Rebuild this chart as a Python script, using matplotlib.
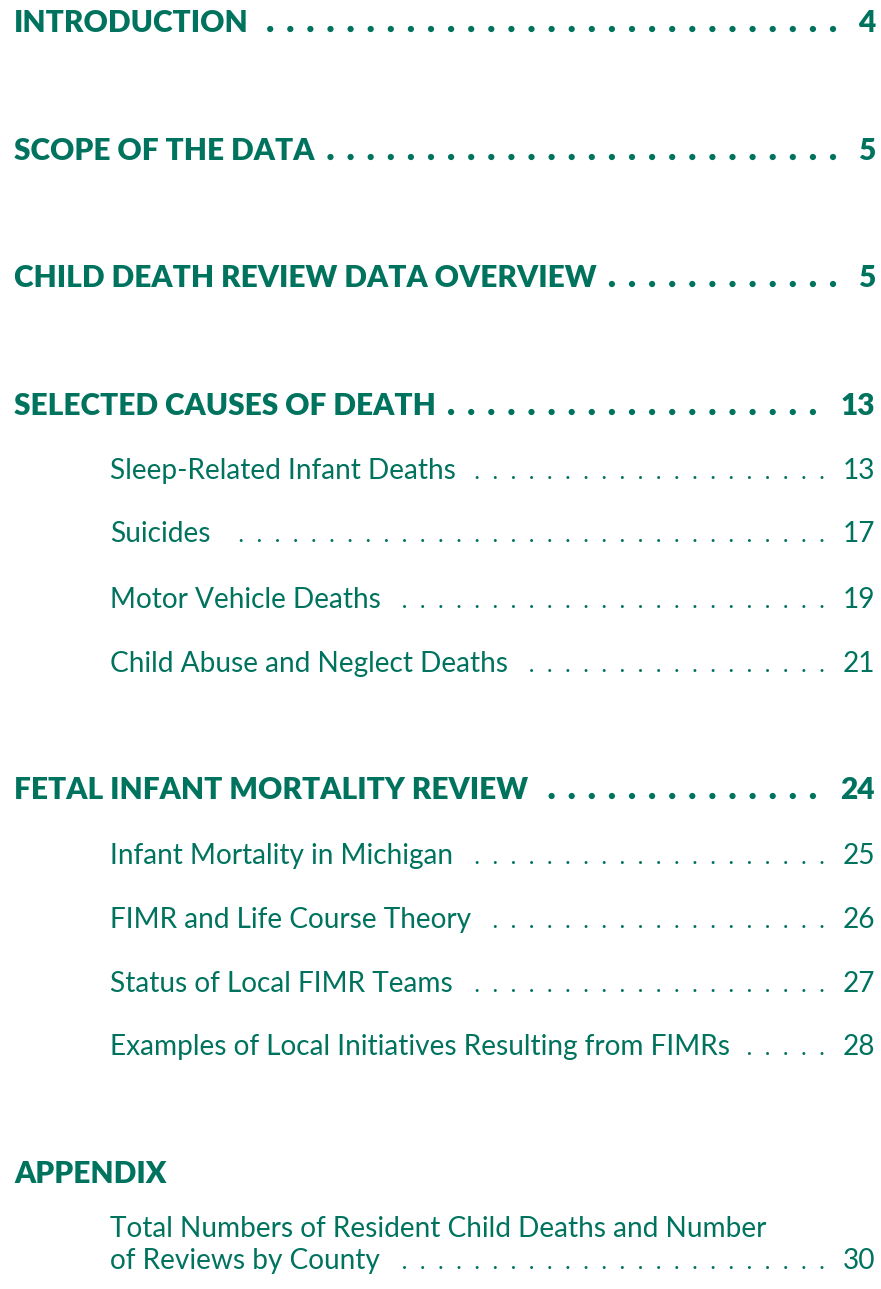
import matplotlib
matplotlib.use("Agg")
import matplotlib.pyplot as plt
import numpy as np

# ---------------- data ----------------
titles = [
    "INTRODUCTION",
    "SCOPE OF THE DATA",
    "CHILD DEATH REVIEW DATA OVERVIEW",
    "SELECTED CAUSES OF DEATH",
    "Sleep-Related Infant Deaths",
    "Suicides",
    "Motor Vehicle Deaths",
    "Child Abuse and Neglect Deaths",
    "FETAL INFANT MORTALITY REVIEW",
    "Infant Mortality in Michigan",
    "FIMR and Life Course Theory",
    "Status of Local FIMR Teams",
    "Examples of Local Initiatives Resulting from FIMRs",
    "APPENDIX",
    "Total Numbers of Resident Child Deaths and Number\nof Reviews by County",
]
pages = ["4", "5", "5", "13", "13", "17", "19", "21", "24", "25", "26", "27", "28", "", "30"]
levels = [0, 0, 0, 0, 1, 1, 1, 1, 0, 1, 1, 1, 1, 0, 1]

# ---------------- layout ----------------
W, H = 881, 1289
COLOR = "#00735f"
baselines = [32, 160, 287, 415, 479, 542, 608, 672, 799, 864, 928, 992, 1055, 1183, 1237]
LINE_H = 32
X_HEAD, X_SUB, X_RIGHT = 14, 110, 875

style = {
    0: dict(fontsize=21.5, weight="heavy", dot_last=833, dot_step=20.1, dot_s=20, dot_dy=-3, gap=14),
    1: dict(fontsize=20.2, weight="normal", dot_last=822, dot_step=18.15, dot_s=4.5, dot_dy=-1.5, gap=14),
}
FAMILY = ["Lato", "DejaVu Sans"]

fig = plt.figure(figsize=(W / 100, H / 100), dpi=100)
ax = fig.add_axes([0, 0, 1, 1])
ax.set_xlim(0, W)
ax.set_ylim(H, 0)
ax.axis("off")

items = []
for t, p, lv, yb in zip(titles, pages, levels, baselines):
    st = style[lv]
    x0 = X_HEAD if lv == 0 else X_SUB
    lines = t.split("\n")
    objs = []
    for i, ln in enumerate(lines):
        o = ax.text(x0, yb + i * LINE_H, ln, fontsize=st["fontsize"], fontweight=st["weight"],
                    family=FAMILY, color=COLOR, ha="left", va="baseline")
        objs.append(o)
    ylast = yb + (len(lines) - 1) * LINE_H
    po = None
    if p:
        po = ax.text(X_RIGHT, ylast, p, fontsize=st["fontsize"], fontweight=st["weight"],
                     family=FAMILY, color=COLOR, ha="right", va="baseline")
    items.append((objs[-1], po, lv, ylast))

fig.canvas.draw()
r = fig.canvas.get_renderer()
for o, po, lv, yl in items:
    if po is None:
        continue
    st = style[lv]
    xend = o.get_window_extent(r).x1
    xpage = po.get_window_extent(r).x0
    k = np.arange(0, 60)
    xs = st["dot_last"] - k * st["dot_step"]
    xs = xs[(xs >= xend + st["gap"]) & (xs <= xpage - st["gap"])]
    ax.scatter(xs, np.full(len(xs), yl + st["dot_dy"]), s=st["dot_s"], color=COLOR,
               edgecolors="none")

fig.savefig("out.png", dpi=100, facecolor="white")
